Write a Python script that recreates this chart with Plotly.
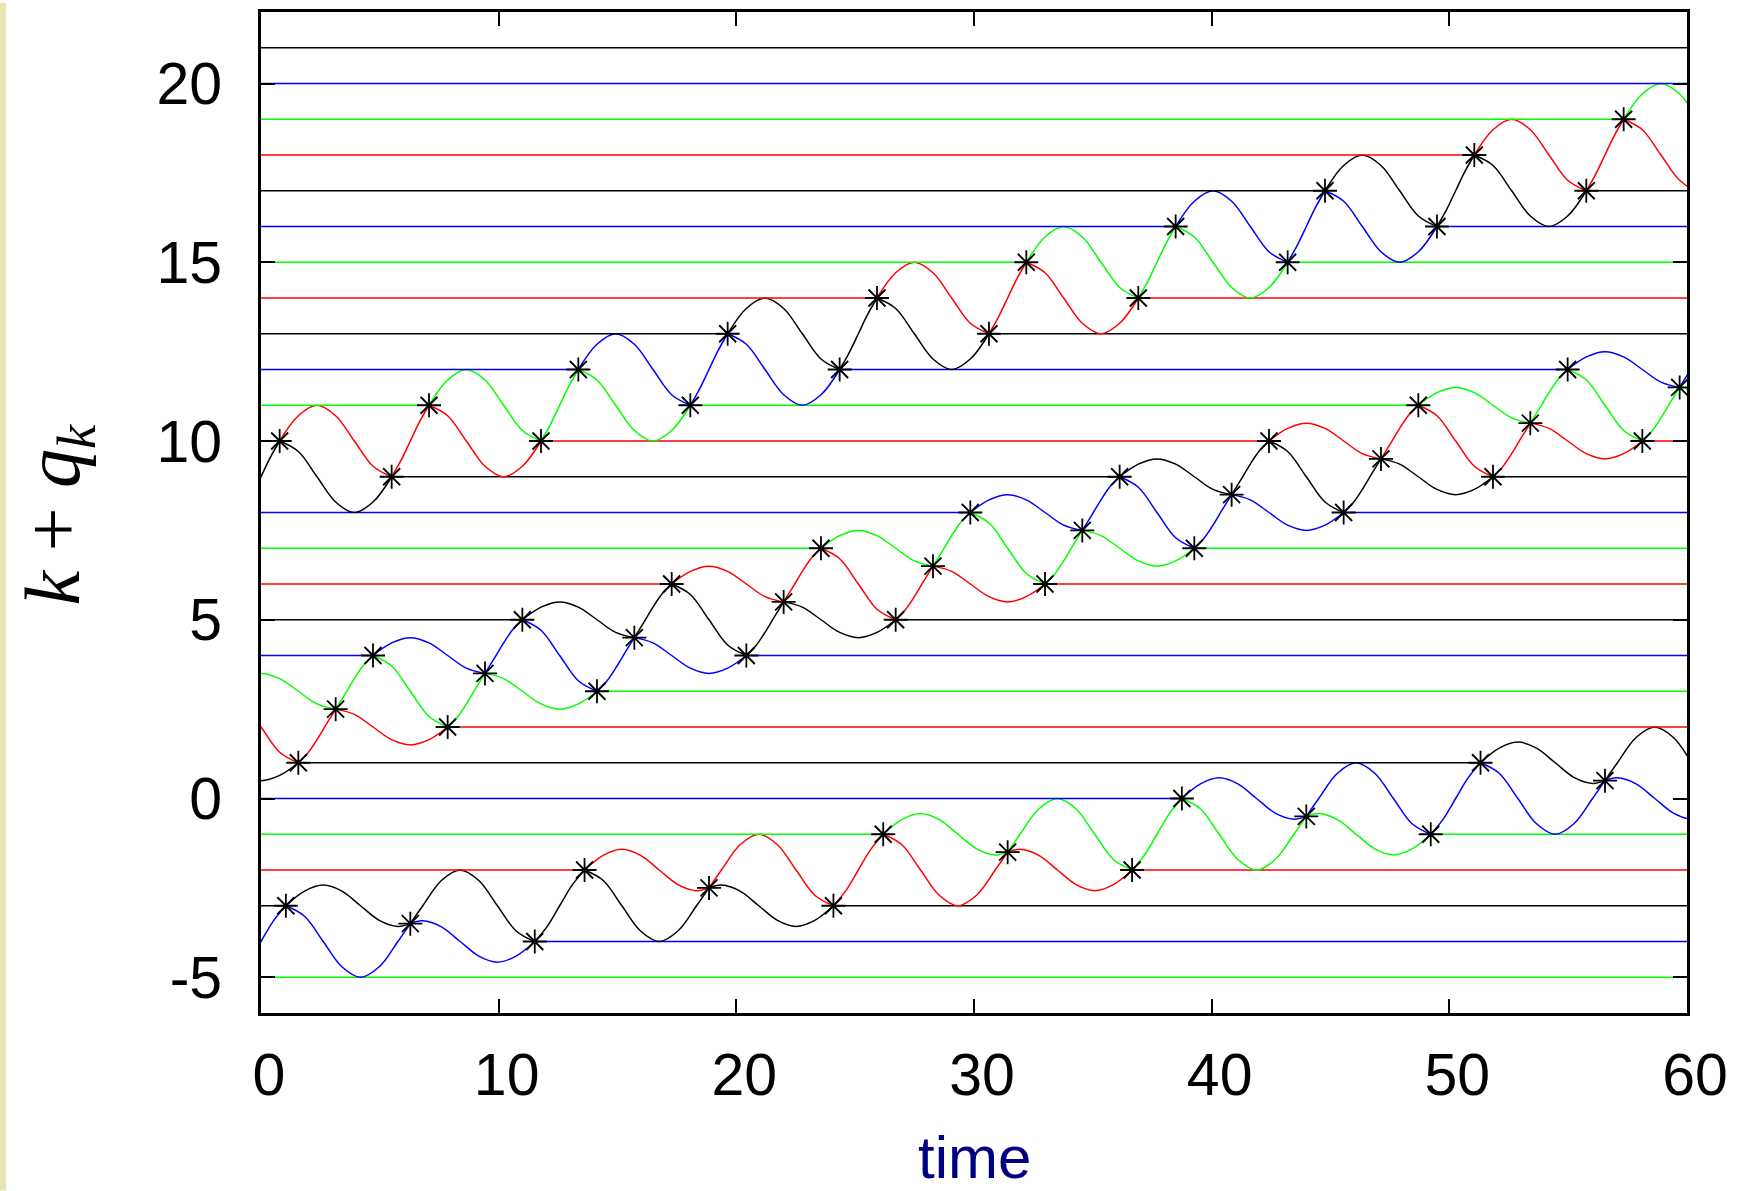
import plotly.graph_objects as go

# ---- axis ranges and tick labels -------------------------------------------
T_RANGE = [0, 60]
Y_RANGE = [-6, 22]
x_tick_vals = [0, 10, 20, 30, 40, 50, 60]
x_tick_text = ["0", "10", "20", "30", "40", "50", "60"]
y_tick_vals = [-5, 0, 5, 10, 15, 20]
y_tick_text = ["-5", "0", "5", "10", "15", "20"]

# lattice sites k (one particle per site)
levels = list(range(-5, 22))

# ---- fast pulse (unit amplitude) --------------------------------------------
# site index and the time at which it is struck by its left neighbour
fast_levels = [9, 10, 11, 12, 13, 14, 15, 16, 17, 18, 19]
fast_starts = [-5.498, 0.785, 7.069, 13.352, 19.635, 25.918, 32.201,
               38.485, 44.768, 51.051, 57.334]
# excursion of one particle: knots (time after start, displacement q),
# None separates the free flights between collisions
fast_dt = [0, 0.785, 1.571, 2.356, 3.142, 3.927, 4.712, None,
           4.712, 5.105, 5.498, 5.890, 6.283, None,
           6.283, 7.069, 7.854, 8.639, 9.425, 10.210, 10.996]
fast_q = [0, 0.707, 1, 0.707, 0, -0.707, -1, None,
          -1, -0.541, 0, 0.541, 1, None,
          1, 0.707, 0, -0.707, -1, -0.707, 0]
# collisions with the left neighbour (time after start, q)
fast_hit_dt = [0, 4.712]
fast_hit_q = [0, -1]

# ---- middle pulse (half-integer collisions) ---------------------------------
mid_levels = [1, 2, 3, 4, 5, 6, 7, 8, 9, 10, 11, 12]
mid_starts = [-14.137, -7.854, -1.571, 4.712, 10.996, 17.279, 23.562,
              29.845, 36.128, 42.412, 48.695, 54.978]
mid_dt = [0, 0.785, 1.571, 2.356, 3.142, 3.927, 4.712, None,
          4.712, 5.105, 5.498, 5.890, 6.283, None,
          6.283, 7.069, 7.854, 8.639, 9.425, None,
          9.425, 9.817, 10.210, 10.603, 10.996, None,
          10.996, 11.781, 12.566, 13.352, 14.137, 14.923, 15.708]
mid_q = [0, 0.354, 0.5, 0.354, 0, -0.354, -0.5, None,
         -0.5, -0.079, 0.354, 0.733, 1, None,
         1, 0.707, 0, -0.707, -1, None,
         -1, -0.733, -0.354, 0.079, 0.5, None,
         0.5, 0.354, 0, -0.354, -0.5, -0.354, 0]
mid_hit_dt = [0, 4.712, 9.425]
mid_hit_q = [0, -0.5, -1]

# ---- slow pulse (bottom) ----------------------------------------------------
slow_levels = [-4, -3, -2, -1, 0, 1]
slow_starts = [-11.519, 1.047, 13.614, 26.180, 38.746, 51.313]
slow_dt = [0, 0.785, 1.571, 2.356, 3.142, 3.927, 4.712, 5.236, None,
           5.236, 5.760, 6.545, 7.330, 8.116, 8.901, 9.687, 10.472, None,
           10.472, 10.996, 11.519, 12.043, 12.566, None,
           12.566, 13.352, 14.137, 14.923, 15.708, 16.493, 17.279, 17.802, None,
           17.802, 18.326, 19.111, 19.897, 20.682, 21.468, 22.253, 23.038]
slow_q = [0, 0.408, 0.577, 0.408, 0, -0.408, -0.577, -0.5, None,
          -0.5, 0, 0.707, 1, 0.707, 0, -0.707, -1, None,
          -1, -0.577, 0, 0.577, 1, None,
          1, 0.707, 0, -0.707, -1, -0.707, 0, 0.5, None,
          0.5, 0.577, 0.408, 0, -0.408, -0.577, -0.408, 0]
slow_hit_dt = [0, 5.236, 10.472]
slow_hit_q = [0, -0.5, -1]

# colour of site k, cycling with k mod 4
site_colors = {0: "#0000FF", 1: "#000000", 2: "#FF0000", 3: "#00FF00"}

waves = [
    (fast_levels, fast_starts, fast_dt, fast_q, fast_hit_dt, fast_hit_q),
    (mid_levels, mid_starts, mid_dt, mid_q, mid_hit_dt, mid_hit_q),
    (slow_levels, slow_starts, slow_dt, slow_q, slow_hit_dt, slow_hit_q),
]

fig = go.Figure()

# particle trajectories: at rest on k, interrupted by the passing pulses
far_left, far_right = -40, 100
for k in levels:
    pieces = []
    for lv, st, dt, dq, _, _ in waves:
        if k in lv:
            s = st[lv.index(k)]
            xs = [None if d is None else s + d for d in dt]
            ys = [None if q is None else k + q for q in dq]
            end = s + max(d for d in dt if d is not None)
            pieces.append((s, end, xs, ys))
    pieces.sort(key=lambda p: p[0])
    X, Y = [], []
    cur = far_left
    for s, e, xs, ys in pieces:
        X += [cur, s, None] + xs + [None]
        Y += [k, k, None] + ys + [None]
        cur = e
    X += [cur, far_right]
    Y += [k, k]
    fig.add_trace(go.Scatter(
        x=X, y=Y, mode="lines", connectgaps=False,
        line=dict(color=site_colors[k % 4], width=1.5, shape="spline",
                  smoothing=1, simplify=False),
        hoverinfo="skip", showlegend=False,
    ))

# collision points
cx, cy = [], []
for lv, st, _, _, hdt, hq in waves:
    for k, s in zip(lv, st):
        for d, q in zip(hdt, hq):
            cx.append(s + d)
            cy.append(k + q)
fig.add_trace(go.Scatter(
    x=cx, y=cy, mode="markers",
    marker=dict(symbol="asterisk", size=20, color="black",
                line=dict(color="black", width=1.8)),
    hoverinfo="skip", showlegend=False,
))

axis_common = dict(
    showline=True, linecolor="black", linewidth=3, mirror="ticks",
    ticks="inside", ticklen=14, tickwidth=1.5, tickcolor="black",
    showgrid=False, zeroline=False,
    tickfont=dict(family="Liberation Sans, Arial, sans-serif", size=59,
                  color="black"),
)

fig.update_layout(
    width=1742, height=1191,
    margin=dict(l=261, r=55, t=9, b=178),
    paper_bgcolor="white", plot_bgcolor="white",
    xaxis=dict(range=T_RANGE, tickvals=x_tick_vals, ticktext=x_tick_text,
               ticklabelstandoff=8, ticklabelshift=8, **axis_common),
    yaxis=dict(range=Y_RANGE, tickvals=y_tick_vals, ticktext=y_tick_text,
               ticklabelstandoff=24, **axis_common),
    annotations=[
        dict(text="time", xref="paper", yref="paper", x=0.5, y=-0.144,
             xanchor="center", yanchor="middle", showarrow=False,
             font=dict(family="Liberation Sans, Arial, sans-serif", size=60,
                       color="#000080")),
        dict(text="<i>k</i> + <i>q</i><sub><i>k</i></sub>",
             xref="paper", yref="paper", x=-0.143, y=0.498,
             xanchor="center", yanchor="middle", textangle=-90,
             showarrow=False,
             font=dict(family="Liberation Serif, Times New Roman, serif",
                       size=78, color="black")),
    ],
    shapes=[
        dict(type="rect", xref="paper", yref="paper",
             x0=-261 / 1426, x1=-255 / 1426, y0=-178 / 1004, y1=1 + 9 / 1004,
             fillcolor="#E6E6B4", line=dict(width=0), layer="below"),
    ],
)

fig.write_html("out.html")
